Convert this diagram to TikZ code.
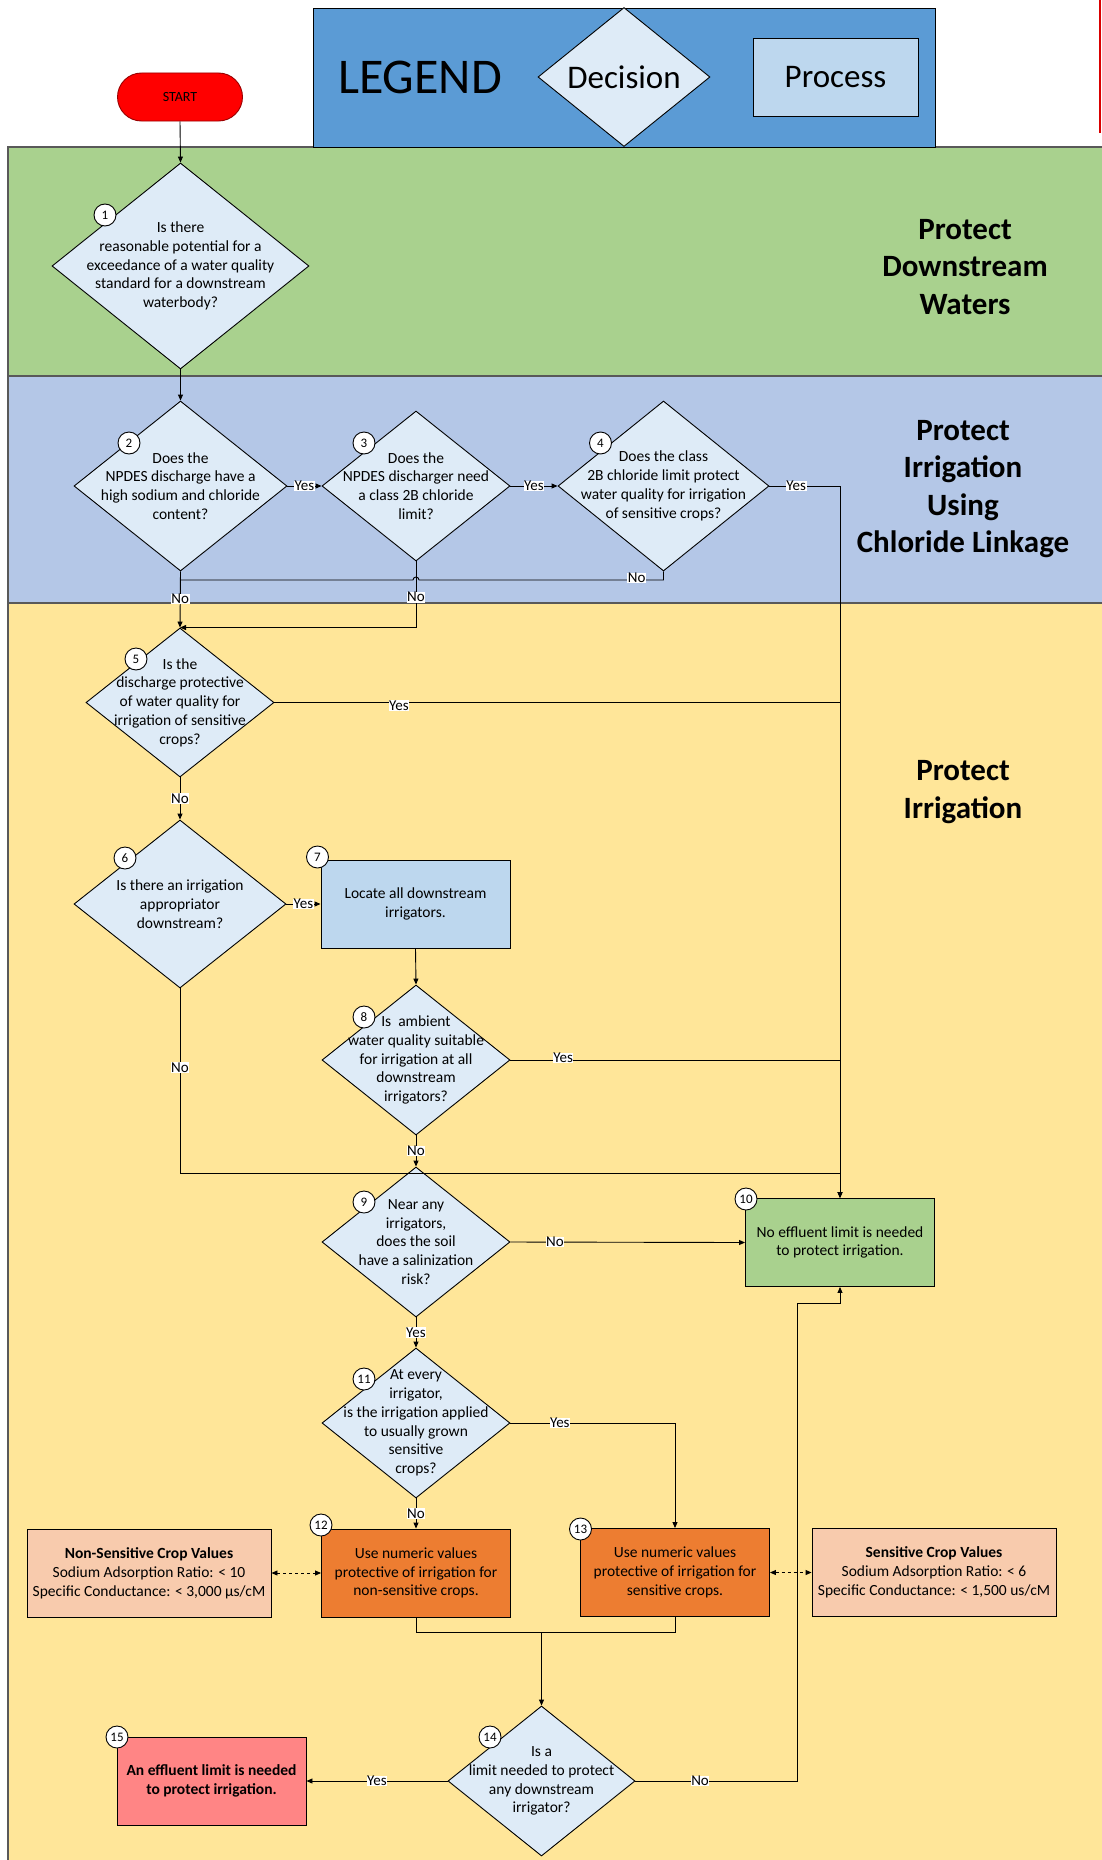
\documentclass[tikz,border=0pt]{standalone}
\usepackage{fontspec}
\setmainfont{Carlito}
\usetikzlibrary{shapes.geometric,arrows.meta}

\definecolor{legblue}{HTML}{5B9BD5}
\definecolor{decblue}{HTML}{DEEBF7}
\definecolor{procblue}{HTML}{BDD7EE}
\definecolor{lanegreen}{HTML}{A9D18E}
\definecolor{laneblue}{HTML}{B4C7E7}
\definecolor{laneyellow}{HTML}{FFE699}
\definecolor{lanegray}{HTML}{595959}
\definecolor{useorange}{HTML}{ED7D31}
\definecolor{peach}{HTML}{F8CBAD}
\definecolor{effred}{HTML}{FF8585}

\newcommand{\flowfont}{\fontsize{15.5}{18.8}\selectfont}

\tikzset{
  dec/.style 2 args={diamond, draw, fill=decblue, inner sep=0pt, minimum width=#1, minimum height=#2},
  dtext/.style={align=center, font=\flowfont, inner sep=0pt},
  proc/.style={rectangle, draw, fill=#1, minimum width=189pt, minimum height=88pt, align=center, font=\flowfont, inner sep=2pt},
  valbox/.style={rectangle, draw, fill=peach, minimum width=244pt, minimum height=88pt, align=center, font=\flowfont, inner sep=2pt},
  num/.style={circle, draw, fill=white, minimum size=22pt, inner sep=0pt, font=\fontsize{13}{15}\selectfont},
  lbl/.style={fill=white, inner sep=0.5pt, font=\fontsize{15}{18}\selectfont},
  lanetitle/.style={align=center, font=\fontsize{31}{37.5}\selectfont\bfseries},
  lane/.style={draw=lanegray, line width=1.5pt, fill=#1},
}

\begin{document}
\begin{tikzpicture}[x=1pt, y=-1pt, line width=0.9pt, >={Triangle[length=6pt,width=5pt]}]
  \useasboundingbox (0,0) rectangle (1102,1860);
  \clip (0,0) rectangle (1102,1860);

  % swim lanes
  \filldraw[lane=lanegreen] (8,147) rectangle (1120,376);
  \filldraw[lane=laneblue] (8,376) rectangle (1120,603);
  \filldraw[lane=laneyellow] (8,603) rectangle (1120,1870);
  \draw[red!85!black, line width=1.5pt] (1100,0) -- (1100,133);

  \node[lanetitle] (t1) at (965,267) {Protect\\Downstream\\Waters};
  \node[lanetitle] (t2) at (963,489) {Protect\\Irrigation\\Using\\Chloride Linkage};
  \node[lanetitle] (t3) at (963,792) {Protect\\Irrigation};

  % legend
  \node[draw, fill=legblue, minimum width=622pt, minimum height=139pt, inner sep=0pt] (legend) at (624,77.5) {};
  \node[font=\fontsize{50}{60}\selectfont] (legtitle) at (420,77) {LEGEND};
  \node[dec={172pt}{139pt}] (legdec) at (624,77) {};
  \node[font=\fontsize{33}{40}\selectfont] (legdect) at (legdec) {Decision};
  \node[proc=procblue, minimum width=165pt, minimum height=78pt, font=\fontsize{33}{40}\selectfont] (legproc) at (835.5,77) {Process};

  \node[draw=red!60!black, fill=red, rounded corners=24pt, minimum width=125pt, minimum height=48pt, font=\fontsize{14}{16}\selectfont] (start) at (180,97) {START};

  % decisions
  \node[dec={257pt}{206pt}] (d1) at (180.5,266) {};
  \node[dtext] (d1t) at (d1) {Is there\\reasonable potential for a\\exceedance of a water quality\\standard for a downstream\\waterbody?};
  \node[dec={213pt}{170pt}] (d2) at (180.5,486) {};
  \node[dtext] (d2t) at (d2) {Does the\\NPDES discharge have a\\high sodium and chloride\\content?};
  \node[dec={188pt}{150pt}] (d3) at (416,486) {};
  \node[dtext] (d3t) at (d3) {Does the\\NPDES discharger need\\a class 2B chloride\\limit?};
  \node[dec={211pt}{170pt}] (d4) at (663.5,486) {};
  \node[dtext] (d4t) at (d4) {Does the class\\2B chloride limit protect\\water quality for irrigation\\of sensitive crops?};
  \node[dec={188pt}{149pt}] (d5) at (180,702.5) {};
  \node[dtext] (d5t) at (d5) {Is the\\discharge protective\\of water quality for\\irrigation of sensitive\\crops?};
  \node[dec={212pt}{168pt}] (d6) at (180,904) {};
  \node[dtext] (d6t) at (d6) {Is there an irrigation\\appropriator\\downstream?};
  \node[dec={188pt}{150pt}] (d8) at (416,1060) {};
  \node[dtext] (d8t) at (d8) {Is\ \ ambient\\water quality suitable\\for irrigation at all\\downstream\\irrigators?};
  \node[dec={188pt}{150pt}] (d9) at (416,1242) {};
  \node[dtext] (d9t) at (d9) {Near any\\irrigators,\\does the soil\\have a salinization\\risk?};
  \node[dec={188pt}{150pt}] (d11) at (416,1423) {};
  \node[dtext] (d11t) at (d11) {At every\\irrigator,\\is the irrigation applied\\to usually grown\\sensitive\\crops?};
  \node[dec={187pt}{150pt}] (d14) at (541.5,1781) {};
  \node[dtext] (d14t) at (d14) {Is a\\limit needed to protect\\any downstream\\irrigator?};

  % processes
  \node[proc=procblue] (p7) at (415.5,904) {Locate all downstream\\irrigators.};
  \node[proc=lanegreen] (n10) at (840,1242.5) {No effluent limit is needed\\to protect irrigation.};
  \node[proc=useorange] (p12) at (416,1573) {Use numeric values\\protective of irrigation for\\non-sensitive crops.};
  \node[proc=useorange] (p13) at (675,1572.5) {Use numeric values\\protective of irrigation for\\sensitive crops.};
  \node[proc=effred, font=\flowfont\bfseries] (p15) at (211.5,1781) {An effluent limit is needed\\to protect irrigation.};
  \node[valbox] (nsv) at (149,1573) {\textbf{Non-Sensitive Crop Values}\\Sodium Adsorption Ratio: < 10\\Specific Conductance: < 3,000 µs/cM};
  \node[valbox] (sv) at (934,1572.5) {\textbf{Sensitive Crop Values}\\Sodium Adsorption Ratio: < 6\\Specific Conductance: < 1,500 us/cM};

  % junctions
  \coordinate (j4) at (663.5,580);
  \coordinate (h3) at (j4 -| d3.south);
  \coordinate (j6) at (180,1173);
  \coordinate (m14) at (541.5,1632);
  \coordinate (j14) at (797,1303);

  % connectors
  \draw[->] (start.south) -- (d1.north);
  \draw[->] (d1.south) -- (d2.north);
  \draw[->] (d2.east) -- node[lbl]{Yes} (d3.west);
  \draw[->] (d3.east) -- node[lbl]{Yes} (d4.west);
  \draw[->] (d4.east) -- node[lbl,pos=0.38]{Yes} (d4.east -| n10.north) -- (n10.north);
  \draw (d4.south) -- (j4) -- node[lbl,pos=0.11,yshift=2pt]{No} ([xshift=3pt]h3) arc[start angle=0,end angle=180,radius=3pt] -- (j4 -| d2.south);
  \draw[->] (d2.south) -- node[lbl,pos=0.49]{No} (d5.north);
  \draw[->] (d3.south) |- node[lbl,pos=0.27]{No} (d5.north);
  \draw (d5.east) -- node[lbl,pos=0.22,yshift=-3pt]{Yes} (d5.east -| n10.north);
  \draw[->] (d5.south) -- node[lbl]{No} (d6.north);
  \draw[->] (d6.east) -- node[lbl]{Yes} (p7.west);
  \draw[->] (d6.south) -- node[lbl,pos=0.43]{No} (j6) -- (j6 -| n10.north) -- (n10.north);
  \draw[->] (p7.south) -- (d8.north);
  \draw (d8.east) -- node[lbl,pos=0.16,yshift=2pt]{Yes} (d8.east -| n10.north);
  \draw[->] (d8.south) -- node[lbl]{No} (d9.north);
  \draw[->] (d9.east) -- node[lbl,pos=0.19]{No} (n10.west);
  \draw[->] (d9.south) -- node[lbl]{Yes} (d11.north);
  \draw[->] (d11.east) -| node[lbl,pos=0.15]{Yes} (p13.north);
  \draw[->] (d11.south) -- node[lbl]{No} (p12.north);
  \draw[dashed,<->] (nsv.east) -- (p12.west);
  \draw[dashed,<->] (p13.east) -- (sv.west);
  \draw (p12.south) |- (m14) -| (p13.south);
  \draw[->] (m14) -- (d14.north);
  \draw[->] (d14.west) -- node[lbl]{Yes} (p15.east);
  \draw[->] (d14.east) -- node[lbl,pos=0.4]{No} (d14.east -| j14) -- (j14) -- (j14 -| n10.south) -- (n10.south);

  % step numbers
  \node[num] (n1c) at (105,215) {1};
  \node[num] (n2c) at (129,443) {2};
  \node[num] (n3c) at (364,443) {3};
  \node[num] (n4c) at (600.5,443) {4};
  \node[num] (n5c) at (136,659) {5};
  \node[num] (n6c) at (125,858) {6};
  \node[num] (n7c) at (317.5,857) {7};
  \node[num] (n8c) at (364,1017) {8};
  \node[num] (n9c) at (364,1202) {9};
  \node[num] (n10c) at (746,1199) {10};
  \node[num] (n11c) at (364,1379) {11};
  \node[num] (n12c) at (321,1525) {12};
  \node[num] (n13c) at (580.5,1529) {13};
  \node[num] (n14c) at (490,1737) {14};
  \node[num] (n15c) at (117,1737) {15};
\end{tikzpicture}
\end{document}
